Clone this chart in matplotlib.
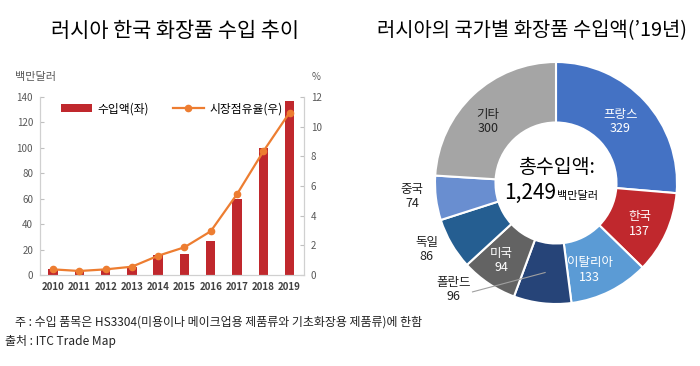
import matplotlib
matplotlib.use("Agg")
import matplotlib.pyplot as plt
import numpy as np

plt.rcParams['font.family'] = ['Noto Sans CJK KR', 'DejaVu Sans']

# left chart data
years = ["2010", "2011", "2012", "2013", "2014", "2015", "2016", "2017", "2018", "2019"]
imports = [4.5, 3.4, 4.5, 6.5, 15.8, 16.5, 26.5, 59.5, 99.8, 137]
share = [0.38, 0.27, 0.38, 0.56, 1.3, 1.87, 2.95, 5.45, 8.33, 10.95]

# right chart data
countries = ["프랑스", "한국", "이탈리아", "폴란드", "미국", "독일", "중국", "기타"]
amounts = [329, 137, 133, 96, 94, 86, 74, 300]
pie_colors = ["#4472c4", "#c0282d", "#5b9bd5", "#264478", "#636363", "#255e91", "#698ed0", "#a5a5a5"]

fig = plt.figure(figsize=(7, 3.66), dpi=100)

# titles
fig.text(175/700, 1 - 31/366, "러시아 한국 화장품 수입 추이", ha="center", va="center", fontsize=15)
fig.text(532/700, 1 - 31/366, "러시아의 국가별 화장품 수입액(\u201919년)", ha="center", va="center", fontsize=14.3)

# ---- bar + line chart
ax = fig.add_axes([40/700, 1 - 275/366, 264/700, 178/366])
x = np.arange(len(years))
ax.bar(x, imports, width=0.36, color="#c0282d", label="수입액(좌)", zorder=2)
ax.set_ylim(0, 140)
ax.set_yticks(range(0, 141, 20))
ax.set_xlim(-0.5, 9.55)
ax.set_xticks(x)
ax.set_xticklabels(years)
ax2 = ax.twinx()
ax2.plot(x, share, color="#ed7d31", marker="o", markersize=4.5, linewidth=1.6, label="시장점유율(우)", zorder=3)
ax2.set_ylim(0, 12)
ax2.set_yticks(range(0, 13, 2))

for a in (ax, ax2):
    a.spines["top"].set_visible(False)
    for s in ("left", "right", "bottom"):
        a.spines[s].set_color("#d0d0d0")
        a.spines[s].set_linewidth(0.8)
    a.tick_params(axis="y", direction="in", length=3, color="#c0c0c0", labelsize=7, labelcolor="#595959", pad=5)
ax.tick_params(axis="x", length=0, labelsize=7, labelcolor="#404040", pad=5)
for lbl in ax.get_xticklabels():
    lbl.set_fontweight("bold")

fig.text(15/700, 1 - 77/366, "백만달러", ha="left", va="center", fontsize=8, color="#595959")
fig.text(316/700, 1 - 77/366, "%", ha="center", va="center", fontsize=7, color="#595959")

h1, l1 = ax.get_legend_handles_labels()
h2, l2 = ax2.get_legend_handles_labels()
ax2.legend(h1 + h2, l1 + l2, loc="upper center", bbox_to_anchor=(0.5, 1.03), ncol=2, frameon=False,
           fontsize=8.5, handlelength=2.6, columnspacing=2.0, handletextpad=0.5)

# ---- donut chart
pc = (556, 183)
r = 121
axp = fig.add_axes([(pc[0] - r)/700, (366 - pc[1] - r)/366, 2*r/700, 2*r/366])
axp.pie(amounts, colors=pie_colors, startangle=90, counterclock=False,
        wedgeprops=dict(width=0.5, edgecolor="white", linewidth=1.5))
axp.set_xlim(-1, 1)
axp.set_ylim(-1, 1)

label_pos = {
    "프랑스": (0.53, 0.51, "white"),
    "한국": (0.69, -0.34, "white"),
    "이탈리아": (0.28, -0.72, "white"),
    "폴란드": (-0.85, -0.88, "#222222"),
    "미국": (-0.45, -0.64, "white"),
    "독일": (-1.07, -0.55, "#222222"),
    "중국": (-1.19, -0.11, "#222222"),
    "기타": (-0.56, 0.51, "#222222"),
}
for name, val in zip(countries, amounts):
    lx, ly, c = label_pos[name]
    axp.text(lx, ly, f"{name}\n{val}", ha="center", va="center", fontsize=9, color=c,
             linespacing=1.15, clip_on=False)
axp.plot([-0.69, -0.09], [-0.90, -0.74], color="#a0a0a0", linewidth=0.8, clip_on=False)

axp.text(0, 0.13, "총수입액:", ha="center", va="center", fontsize=14)
axp.text(0.0, -0.13, "1,249", ha="right", va="baseline", fontsize=15)
axp.text(0.01, -0.13, "백만달러", ha="left", va="baseline", fontsize=8)

# footer notes
fig.text(15/700, 1 - 322/366, "주 : 수입 품목은 HS3304(미용이나 메이크업용 제품류와 기초화장용 제품류)에 한함",
         ha="left", va="center", fontsize=8.6, color="#222222")
fig.text(5/700, 1 - 342/366, "출처 : ITC Trade Map", ha="left", va="center", fontsize=8.6, color="#222222")

fig.savefig("out.png", dpi=100)
